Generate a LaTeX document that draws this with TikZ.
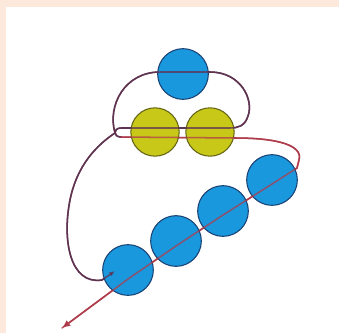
\documentclass[tikz,border=0pt]{standalone}
\usetikzlibrary{arrows.meta,calc}
\definecolor{beadblue}{RGB}{25,152,222}
\definecolor{beadblueline}{RGB}{25,65,115}
\definecolor{beadyellow}{RGB}{200,200,25}
\definecolor{beadyellowline}{RGB}{100,100,20}
\definecolor{threaddark}{RGB}{95,50,80}
\definecolor{threadred}{RGB}{175,60,75}
\definecolor{peach}{RGB}{253,233,220}
% the two halves of the thread
\def\threadone{(end) -- (102,280)
  .. controls (70,285) and (62,240) .. (70,200)
  .. controls (77,165) and (97,145) .. (knot)
  .. controls (107,105) and (125,72) .. (160,72) -- (210,72)
  .. controls (241,72) and (254,100) .. (248,116)
  .. controls (245,126) and (238,128) .. (230,128) -- (121,128)
  .. controls (113,128) and (113,137) .. (turn)}
\def\threadtwo{(turn) -- (235,138)
  .. controls (280,138) and (303,146) .. (299,160)
  .. controls (298,164) .. ($(c1)+(25,-12)$)
  -- ($(c1)+(0,4)$) -- ($(c2)+(0,4)$) -- ($(c3)+(0,5)$) -- ($(c4)+(0,9)$) -- (tip)}

\begin{document}
\begin{tikzpicture}[x=0.03cm,y=-0.03cm,>=Latex]
\tikzstyle{bead}=[circle,draw=beadblueline,line width=0.9pt,fill=beadblue,minimum size=1.52cm,inner sep=0pt]
\tikzstyle{ybead}=[bead,draw=beadyellowline,fill=beadyellow,minimum size=1.45cm]
\tikzstyle{thread}=[line width=1.3pt,line cap=round,line join=round]
\fill[peach] (0,0) rectangle (339,333);
\fill[white] (6,7) rectangle (339,333);
% bead places
\coordinate (top) at (183,74);
\coordinate (y1) at (155,132);
\coordinate (y2) at (210,132);
\foreach \i/\x/\y in {1/272/180,2/223/211,3/176/241,4/128/270}{\coordinate (c\i) at (\x,\y);}
% thread ends
\coordinate (end) at (115,271);
\coordinate (knot) at (115,133);
\coordinate (turn) at (121,137);
\coordinate (tip) at (62,328);
% thread
\draw[thread,threaddark] \threadone;
\draw[thread,threadred,-{Latex[length=7pt,width=6pt]}] \threadtwo;
% beads
\node[bead] (btop) at (top) {};
\node[ybead] (by1) at (y1) {};
\node[ybead] (by2) at (y2) {};
\foreach \i in {1,...,4}{\node[bead] (bc\i) at (c\i) {};}
% thread seen through the beads
\draw[thread,threaddark,opacity=0.75,{Latex[length=5pt,width=4pt]}-] \threadone;
\draw[thread,threadred,opacity=0.75] \threadtwo;
\end{tikzpicture}
\end{document}
